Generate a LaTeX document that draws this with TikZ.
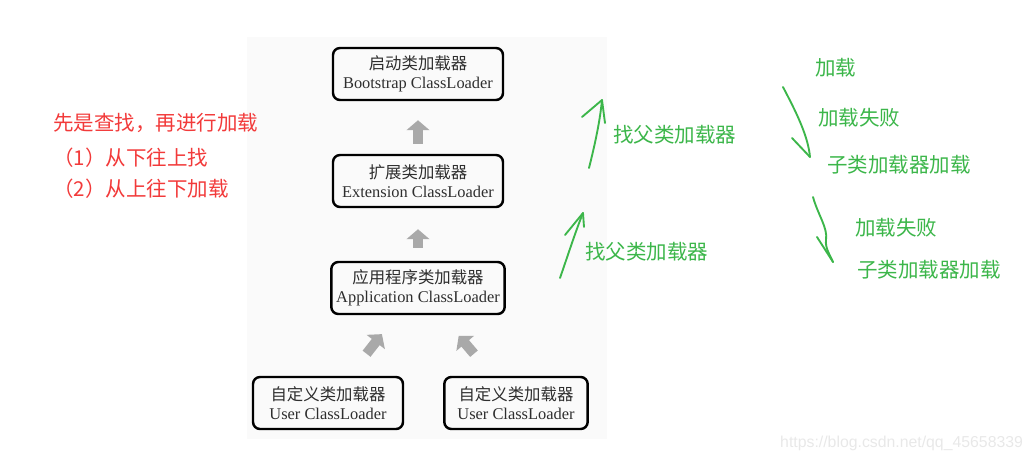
\documentclass[tikz,border=0pt]{standalone}
\usepackage{fontspec}
\setmainfont{Liberation Serif}
\newfontfamily\cjk{Noto Sans CJK SC}
\newfontfamily\urlfont{Liberation Sans}
\usetikzlibrary{arrows.meta}
\definecolor{handgreen}{HTML}{3CB64A}
\definecolor{notered}{HTML}{F23A3A}
\definecolor{fatgray}{HTML}{A9A9A9}
\definecolor{panel}{HTML}{FAFAFA}

\begin{document}
\begin{tikzpicture}[x=0.03cm, y=-0.03cm,
    loader/.style={draw, line width=2.1pt, rounded corners=6pt, align=center, minimum height=1.56cm,
      inner xsep=2pt, text=black!82, font=\fontsize{14}{16.5}\selectfont},
    fatarrow/.style={fatgray, line width=0.3cm, -{Triangle[width=0.68cm, length=0.3cm]}},
    hand/.style={handgreen, line width=1.6pt, line cap=round, line join=round},
    handtext/.style={text=handgreen, anchor=west, inner sep=0pt, font=\cjk\fontsize{17.5}{20}\selectfont},
    notetext/.style={text=notered, anchor=west, inner sep=0pt, font=\cjk\fontsize{17.5}{20}\selectfont}]
      \useasboundingbox (0,0) rectangle (1033,462);
      \fill[panel] (247,37) rectangle (607,439);

      % the class loaders
      \node[loader, minimum width=5.1cm] (boot) at (418,74) {{\cjk 启动类加载器}\\Bootstrap ClassLoader};
      \node[loader, minimum width=5.1cm] (ext) at (418,181) {{\cjk 扩展类加载器}\\Extension ClassLoader};
      \node[loader, minimum width=5.2cm] (app) at (418,288) {{\cjk 应用程序类加载器}\\Application ClassLoader};
      \node[loader, minimum width=4.5cm] (user1) at (328,403) {{\cjk 自定义类加载器}\\User ClassLoader};
      \node[loader, minimum width=4.3cm] (user2) at (516,403) {{\cjk 自定义类加载器}\\User ClassLoader};

      \draw[fatarrow, shorten <=0.3cm, shorten >=0.57cm] (ext) -- (boot);
      \draw[fatarrow, shorten <=0.39cm, shorten >=0.63cm] (app) -- (ext);
      \draw[fatarrow, shorten <=0.84cm, shorten >=0.72cm] (user1) -- (app);
      \draw[fatarrow, shorten <=0.87cm, shorten >=0.81cm] (user2) -- (app);

      % notes
      \node[notetext] (n0) at (53,123) {先是查找，再进行加载};
      \node[notetext] (n1) at (53,158) {（1）从下往上找};
      \node[notetext] (n2) at (53,189) {（2）从上往下加载};

      \node[handtext] (f1) at (613,135) {找父类加载器};
      \node[handtext] (f2) at (585,252) {找父类加载器};
      \node[handtext] (l0) at (815,68) {加载};
      \node[handtext] (l1) at (818,118) {加载失败};
      \node[handtext] (l2) at (827,165) {子类加载器加载};
      \node[handtext] (l3) at (855,228) {加载失败};
      \node[handtext] (l4) at (857,270) {子类加载器加载};

      % hand drawn arrows
      \coordinate (a1s) at (589,168);
      \coordinate (a1t) at (602,100);
      \coordinate (a2s) at (560,278);
      \coordinate (a2t) at (583,213);
      \coordinate (a3s) at (783,87);
      \coordinate (a3t) at (810,157);
      \coordinate (a4s) at (813,197);
      \coordinate (a4t) at (833,262);

      \draw[hand] (a1s) .. controls (596,140) and (600,120) .. (a1t);
      \draw[hand] (a1t) -- ++(-20,17) (a1t) -- ++(3,23);
      \draw[hand] (a2s) .. controls (568,255) and (576,230) .. (a2t);
      \draw[hand] (a2t) -- ++(-18,22) (a2t) -- ++(1,14);
      \draw[hand] (a3s) .. controls (795,110) and (808,135) .. (a3t);
      \draw[hand] (a3t) -- ++(-18,-19);
      \draw[hand] (a4s) .. controls (818,215) and (828,228) .. (826,240) .. controls (825,248) and (830,255) .. (a4t);
      \draw[hand] (a4t) -- ++(-16,-25);

      \node[text=black!9, font=\urlfont\fontsize{13.5}{15}\selectfont, anchor=west, inner sep=0pt] (mark) at (780,443) {https://blog.csdn.net/qq\_45658339};
\end{tikzpicture}
\end{document}
